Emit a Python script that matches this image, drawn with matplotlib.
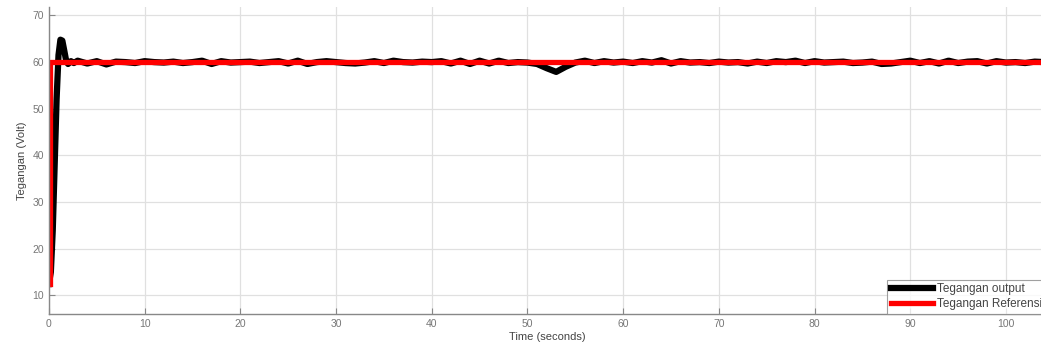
import numpy as np
import matplotlib
matplotlib.use("Agg")
import matplotlib.pyplot as plt

plt.rcParams['font.family'] = ['Liberation Sans', 'DejaVu Sans']

# transient part of the output voltage (seconds, volts)
t_rise = [0.0, 0.2, 0.4, 0.6, 0.8, 1.0, 1.2, 1.4, 1.6, 1.8, 2.0, 2.3, 2.6]
v_rise = [12.5, 15.0, 24.0, 38.0, 52.0, 61.5, 64.8, 64.6, 62.5, 60.3, 59.6, 60.2, 59.8]

# steady-state output, one sample per second from t=3
v_steady = [60.3, 59.7, 60.2, 59.5, 60.1, 60.0, 59.8, 60.2, 60.0, 59.9,   # 3-12
            60.1, 59.8, 60.0, 60.3, 59.6, 60.2, 59.9, 60.0, 60.1, 59.8,   # 13-22
            60.0, 60.2, 59.7, 60.3, 59.6, 60.0, 60.2, 60.0, 59.8, 59.7,   # 23-32
            59.9, 60.2, 59.8, 60.3, 60.0, 59.9, 60.1, 60.0, 60.2, 59.7,   # 33-42
            60.3, 59.6, 60.3, 59.7, 60.3, 59.8, 60.0, 59.9, 59.6, 58.7,   # 43-52
            57.9, 59.0, 59.9, 60.3, 59.8, 60.2, 59.9, 60.1, 59.8, 60.2,   # 53-62
            59.9, 60.4, 59.7, 60.2, 59.9, 60.0, 59.8, 60.1, 59.9, 60.0,   # 63-72
            59.7, 60.1, 59.8, 60.2, 60.0, 60.3, 59.8, 60.2, 59.9, 60.0,   # 73-82
            60.1, 59.8, 59.9, 60.1, 59.6, 59.7, 60.0, 60.3, 59.8, 60.2,   # 83-92
            59.7, 60.3, 59.8, 60.1, 60.2, 59.7, 60.2, 59.9, 60.0, 59.8,   # 93-102
            60.1, 60.0]                                                   # 103-104
t_steady = list(range(3, 3 + len(v_steady)))

t_out = t_rise + t_steady
v_out = v_rise + v_steady

# reference voltage
t_ref = [0.1, 0.1, 104.5]
v_ref = [12.5, 60.0, 60.0]

fig = plt.figure(figsize=(10.41, 3.51), dpi=100)
ax = fig.add_axes([0.047, 0.105, 0.958, 0.875])

ax.plot(t_out, v_out, color='black', lw=4.5, label='Tegangan output')
ax.plot(t_ref, v_ref, color='#ff0000', lw=3.8, label='Tegangan Referensi')

ax.set_xlim(0, 104.2)
ax.set_ylim(6, 71.8)
ax.set_xticks(range(0, 101, 10))
ax.set_yticks(range(10, 71, 10))
ax.grid(True, color='#e0e0e0', lw=0.9)
ax.tick_params(direction='in', length=4, width=0.8, colors='#888888',
               labelsize=7.5, labelcolor='#777777', top=False, right=False)
for s in ['left', 'bottom']:
    ax.spines[s].set_color('#888888')
    ax.spines[s].set_linewidth(1.0)
ax.spines['top'].set_visible(False)
ax.spines['right'].set_visible(False)

ax.set_xlabel('Time (seconds)', fontsize=8, color='#444444', labelpad=2)
ax.set_ylabel('Tegangan (Volt)', fontsize=8, color='#444444', labelpad=4)

leg = ax.legend(loc='lower right', fontsize=8.5, frameon=True, fancybox=False,
                borderaxespad=0.05, handlelength=3.6, handletextpad=0.3,
                borderpad=0.3, labelspacing=0.25)
leg.get_frame().set_edgecolor('#888888')
leg.get_frame().set_linewidth(0.8)
for txt in leg.get_texts():
    txt.set_color('#444444')

fig.savefig('out.png', dpi=100)
